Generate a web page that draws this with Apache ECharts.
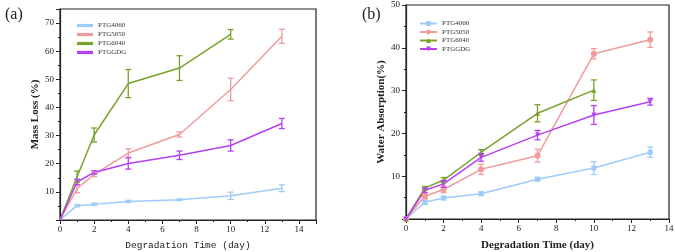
<!DOCTYPE html>
<html>
<head>
<meta charset="utf-8">
<script src="https://cdn.jsdelivr.net/npm/echarts@6/dist/echarts.min.js"></script>
<style>
  html, body { margin: 0; padding: 0; background: #fff; }
  #chart { width: 675px; height: 252px; }
</style>
</head>
<body>
<div id="chart"></div>
<script>
const days = [0, 1, 2, 4, 7, 10, 13]
const seriesNames = ['PTG4060', 'PTG5050', 'PTG6040', 'PTGGDG']
const colors = ['#9dcbfa', '#f09c9c', '#77a22c', '#b640f2']

// (a) mass loss (%)
const lossPTG4060 = [0, 5.1, 5.6, 6.6, 7.2, 8.6, 11.3]
const lossPTG5050 = [0, 11.2, 16.2, 23.8, 30.4, 46.4, 65.3]
const lossPTG6040 = [0, 15.4, 30.2, 48.5, 54, 66]
const lossPTGGDG = [0, 13.5, 16.9, 20.1, 23, 26.5, 34.3]
const lossErrPTG4060 = [0, 0.4, 0.4, 0.4, 0.3, 1.3, 1.2]
const lossErrPTG5050 = [0, 1.5, 0.8, 1.5, 0.9, 4, 2.5]
const lossErrPTG6040 = [0, 2, 2.5, 5, 4.4, 1.7]
const lossErrPTGGDG = [0, 1, 0.6, 2, 1.5, 2, 1.8]

// (b) water absorption (%)
const waterPTG4060 = [0, 3.9, 4.9, 5.9, 9.3, 11.9, 15.6]
const waterPTG5050 = [0, 5.3, 6.9, 11.6, 14.8, 38.6, 41.9]
const waterPTG6040 = [0, 7.2, 9.1, 15.6, 24.7, 30.1]
const waterPTGGDG = [0, 6.7, 8.2, 14.4, 19.6, 24.3, 27.4]
const waterErrPTG4060 = [0, 0.5, 0.4, 0.4, 0.4, 1.5, 1.2]
const waterErrPTG5050 = [0, 0.6, 0.8, 1.2, 1.5, 1.2, 1.8]
const waterErrPTG6040 = [0, 0.4, 0.6, 0.6, 2, 2.4]
const waterErrPTGGDG = [0, 0.5, 0.8, 0.9, 1.1, 2.2, 0.8]

const lossValues = [lossPTG4060, lossPTG5050, lossPTG6040, lossPTGGDG]
const lossErrors = [lossErrPTG4060, lossErrPTG5050, lossErrPTG6040, lossErrPTGGDG]
const waterValues = [waterPTG4060, waterPTG5050, waterPTG6040, waterPTGGDG]
const waterErrors = [waterErrPTG4060, waterErrPTG5050, waterErrPTG6040, waterErrPTGGDG]
const waterSymbols = ['rect', 'circle', 'triangle', 'path://M0,0 L10,0 L5,9 Z']

const serif = 'Liberation Serif'
const ink = '#222'
// panel (b) series get a suffix so each legend finds its own series
const bKey = '\u200b'

// error bar with caps, drawn through the axis scale
const errorBar = (color) => (params, api) => {
  const x = api.value(0), y = api.value(1), e = api.value(2)
  if (!e) return null
  const hi = api.coord([x, y + e])
  const lo = api.coord([x, y - e])
  const w = 3
  const st = { stroke: color, lineWidth: 1.3 }
  return {
    type: 'group',
    children: [
      { type: 'line', shape: { x1: hi[0], y1: hi[1], x2: lo[0], y2: lo[1] }, style: st },
      { type: 'line', shape: { x1: hi[0] - w, y1: hi[1], x2: hi[0] + w, y2: hi[1] }, style: st },
      { type: 'line', shape: { x1: lo[0] - w, y1: lo[1], x2: lo[0] + w, y2: lo[1] }, style: st }
    ]
  }
}

const pairs = (vals) => vals.map((v, i) => [days[i], v])
const triples = (vals, errs) => vals.map((v, i) => [days[i], v, errs[i]])

const valueAxis = (extra) => Object.assign({
  type: 'value',
  axisLine: { show: true, lineStyle: { color: ink, width: 1.2 } },
  axisTick: { show: true, inside: false, length: 4, lineStyle: { color: ink } },
  minorTick: { show: true, splitNumber: 2, length: 2, lineStyle: { color: ink } },
  splitLine: { show: false },
  axisLabel: { color: ink, fontFamily: serif, fontSize: 9, margin: 5 },
  nameTextStyle: { color: ink, fontFamily: serif, fontSize: 11, fontWeight: 'bold' }
}, extra)

let series = []
seriesNames.forEach((name, k) => {
  series.push({
    name: name,
    type: 'line',
    xAxisIndex: 0, yAxisIndex: 0,
    data: pairs(lossValues[k]),
    symbol: 'none',
    lineStyle: { color: colors[k], width: 1.5 },
    itemStyle: { color: colors[k] },
    z: 3
  })
  series.push({
    type: 'custom',
    xAxisIndex: 0, yAxisIndex: 0,
    data: triples(lossValues[k], lossErrors[k]),
    encode: { x: 0, y: 1 },
    renderItem: errorBar(colors[k]),
    z: 4
  })
  series.push({
    name: name + bKey,
    type: 'line',
    xAxisIndex: 1, yAxisIndex: 1,
    data: pairs(waterValues[k]),
    symbol: waterSymbols[k],
    symbolSize: k === 1 ? 6 : 5,
    showAllSymbol: true,
    lineStyle: { color: colors[k], width: 1.5 },
    itemStyle: { color: colors[k] },
    z: 3
  })
  series.push({
    type: 'custom',
    xAxisIndex: 1, yAxisIndex: 1,
    data: triples(waterValues[k], waterErrors[k]),
    encode: { x: 0, y: 1 },
    renderItem: errorBar(colors[k]),
    z: 4
  })
})

let myChart = echarts.init(document.getElementById('chart'), null, { renderer: 'canvas' })
let option = {
  animation: false,
  backgroundColor: '#fff',
  title: [
    { text: '(a)', left: 0, top: 2, textStyle: { fontFamily: serif, fontSize: 16, fontWeight: 'normal', color: ink } },
    { text: '(b)', left: 357, top: 2, textStyle: { fontFamily: serif, fontSize: 16, fontWeight: 'normal', color: ink } }
  ],
  grid: [
    { left: 60, top: 9, width: 256, height: 211, show: true, borderColor: ink, borderWidth: 1.2, outerBoundsMode: 'none' },
    { left: 406, top: 5, width: 263, height: 214, show: true, borderColor: ink, borderWidth: 1.2, outerBoundsMode: 'none' }
  ],
  legend: [
    {
      data: seriesNames,
      orient: 'vertical',
      left: 72, top: 17,
      itemWidth: 16, itemHeight: 6, itemGap: 2,
      icon: 'path://M0,0 L1,0 L1,0.2 L0,0.2 Z',
      textStyle: { fontFamily: serif, fontSize: 7, color: '#333' }
    },
    {
      data: seriesNames.map((n) => n + bKey),
      orient: 'vertical',
      left: 414, top: 15,
      itemWidth: 17, itemHeight: 6, itemGap: 1.5,
      formatter: (n) => n.replace(bKey, ''),
      textStyle: { fontFamily: serif, fontSize: 7, color: '#333' }
    }
  ],
  xAxis: [
    valueAxis({
      gridIndex: 0, min: 0, max: 15, interval: 2,
      axisLabel: { color: ink, fontFamily: serif, fontSize: 9, margin: 5, showMaxLabel: false },
      name: 'Degradation Time (day)', nameLocation: 'middle', nameGap: 20,
      nameTextStyle: { color: ink, fontFamily: 'Liberation Mono', fontSize: 9.5, fontWeight: 'normal' }
    }),
    valueAxis({
      gridIndex: 1, min: 0, max: 14, interval: 2,
      name: 'Degradation Time (day)', nameLocation: 'middle', nameGap: 21
    })
  ],
  yAxis: [
    valueAxis({
      gridIndex: 0, min: 0, max: 75, interval: 10,
      axisLabel: {
        color: ink, fontFamily: serif, fontSize: 9, margin: 6, showMaxLabel: false,
        formatter: (v) => (v === 0 ? '' : v)
      },
      name: 'Mass Loss (%)', nameLocation: 'middle', nameGap: 15
    }),
    valueAxis({
      gridIndex: 1, min: 0, max: 50, interval: 10,
      axisLabel: {
        color: ink, fontFamily: serif, fontSize: 9, margin: 6,
        formatter: (v) => (v === 0 ? '' : v)
      },
      name: 'Water Absorption(%)', nameLocation: 'middle', nameGap: 19
    })
  ],
  series: series
}
myChart.setOption(option)
</script>
</body>
</html>
